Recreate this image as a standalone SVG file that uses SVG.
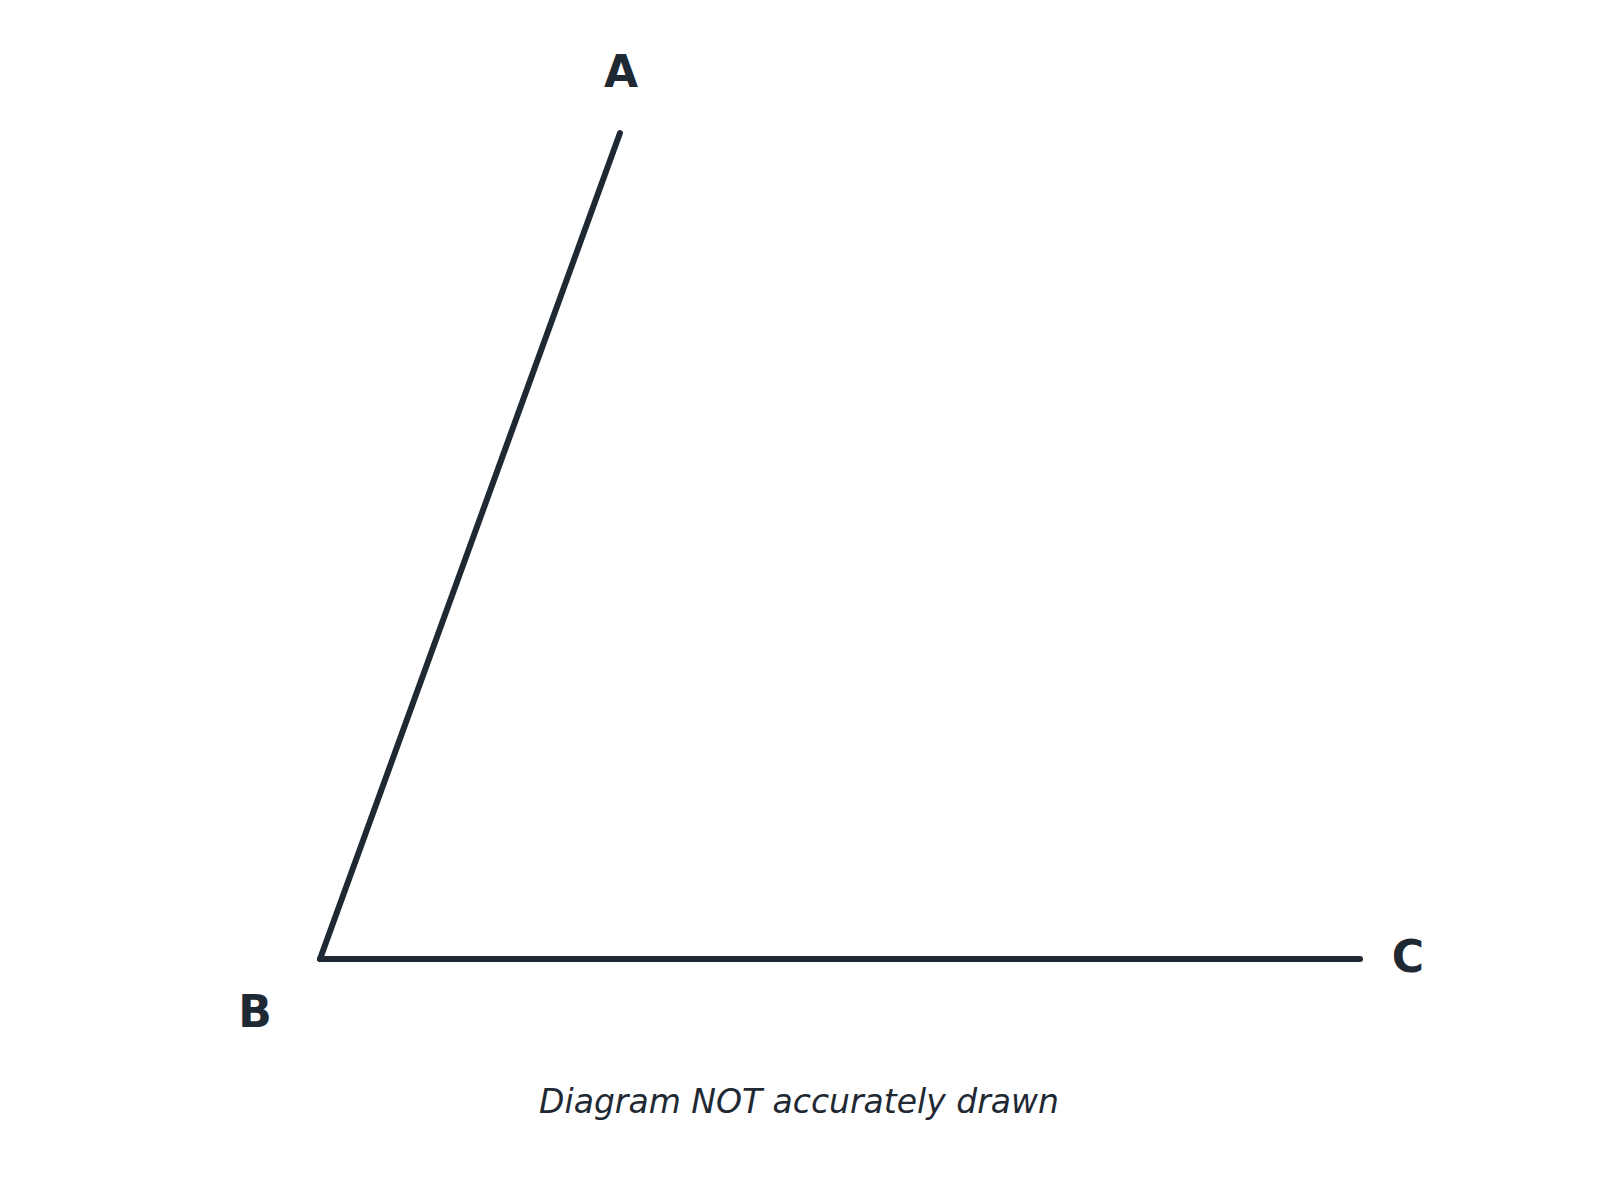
<svg xmlns="http://www.w3.org/2000/svg" width="1600" height="1200" viewBox="0 0 1600 1200">
<style>
.lbl{font-family:"DejaVu Sans",sans-serif;font-weight:bold;font-size:44px;fill:#1f2933;text-anchor:middle}
.cap{font-family:"DejaVu Sans",sans-serif;font-style:italic;font-size:33px;fill:#1f2933;text-anchor:middle}
.seg{stroke:#1f2933;stroke-width:6;stroke-linecap:round;fill:none}
</style>
<rect width="1600" height="1200" fill="#ffffff"/>
<g id="connectors">
<line class="seg" x1="620" y1="133" x2="320" y2="959"/>
<line class="seg" x1="320" y1="959" x2="1360" y2="959"/>
</g>
<g id="A"><text class="lbl" x="621" y="87">A</text></g>
<g id="B"><text class="lbl" x="255" y="1027">B</text></g>
<g id="C"><text class="lbl" x="1408" y="972">C</text></g>
<text class="cap" x="799" y="1113">Diagram NOT accurately drawn</text>
</svg>
